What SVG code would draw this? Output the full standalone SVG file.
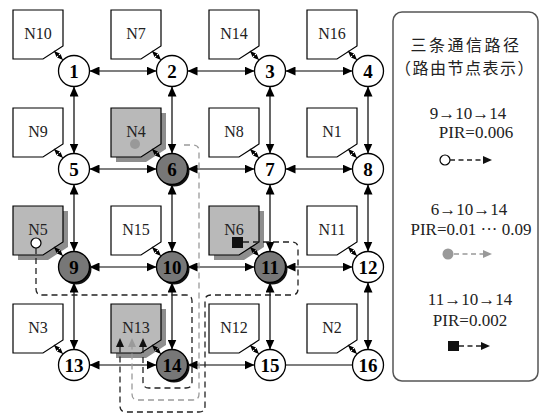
<svg xmlns="http://www.w3.org/2000/svg" width="540" height="414" viewBox="0 0 540 414">
<style>
.c{stroke:#000;stroke-width:1.2;fill:none;marker-start:url(#ah);marker-end:url(#ah)}
.p{stroke:#000;stroke-width:1.2;fill:none}
.d{stroke:#000;stroke-width:1.1;stroke-dasharray:1.6 1.4;fill:none;marker-start:url(#sa);marker-end:url(#sa)}
.box{fill:#fff;stroke:#000;stroke-width:1.2}
.gbox{fill:#b9b9b9;stroke:#000;stroke-width:1.2}
.sh{fill:#8e8e8e}
.nl{font-family:"Liberation Serif","Times New Roman","DejaVu Serif",serif;font-size:16px;text-anchor:middle;fill:#222}
.wn{fill:#fff;stroke:#000;stroke-width:1.3}
.gn{fill:#777;stroke:#000;stroke-width:1.3}
.ns{fill:#111}
.num{font-family:"Liberation Serif","Times New Roman","DejaVu Serif",serif;font-size:19px;font-weight:bold;text-anchor:middle;fill:#000}
.dk{stroke:#222;stroke-width:1.3;stroke-dasharray:6 4;fill:none}
.dg{stroke:#9a9a9a;stroke-width:1.3;stroke-dasharray:6 4;fill:none}
.lt{font-family:"Liberation Serif","Times New Roman","DejaVu Serif",serif;font-size:17px;text-anchor:middle;fill:#222}
.cj{font-family:"Noto Sans CJK SC","Liberation Serif",sans-serif;font-size:16px;text-anchor:middle;fill:#222}
</style>
<defs>
<marker id="ah" viewBox="0 0 10 9" refX="10" refY="4.5" markerWidth="10" markerHeight="9" markerUnits="userSpaceOnUse" orient="auto-start-reverse"><path d="M0,0 L10,4.5 L0,9 z" fill="#000"/></marker>
<marker id="sa" viewBox="0 0 6 5" refX="6" refY="2.5" markerWidth="6" markerHeight="5" markerUnits="userSpaceOnUse" orient="auto-start-reverse"><path d="M0,0 L6,2.5 L0,5 z" fill="#000"/></marker>
</defs>

<g id="connectors">
<line class="c" x1="89.5" y1="71" x2="156.5" y2="71"/>
<line class="c" x1="187.5" y1="71" x2="254.5" y2="71"/>
<line class="c" x1="285.5" y1="71" x2="352.5" y2="71"/>
<line class="c" x1="89.5" y1="169" x2="156.5" y2="169"/>
<line class="c" x1="187.5" y1="169" x2="254.5" y2="169"/>
<line class="c" x1="285.5" y1="169" x2="352.5" y2="169"/>
<line class="c" x1="89.5" y1="267" x2="156.5" y2="267"/>
<line class="c" x1="187.5" y1="267" x2="254.5" y2="267"/>
<line class="c" x1="285.5" y1="267" x2="352.5" y2="267"/>
<line class="c" x1="89.5" y1="365" x2="156.5" y2="365"/>
<line class="c" x1="187.5" y1="365" x2="254.5" y2="365"/>
<line class="p" x1="285.5" y1="365" x2="352.5" y2="365"/>
<line class="c" x1="74" y1="86.5" x2="74" y2="153.5"/>
<line class="c" x1="74" y1="184.5" x2="74" y2="251.5"/>
<line class="c" x1="74" y1="282.5" x2="74" y2="349.5"/>
<line class="c" x1="172" y1="86.5" x2="172" y2="153.5"/>
<line class="c" x1="172" y1="184.5" x2="172" y2="251.5"/>
<line class="c" x1="172" y1="282.5" x2="172" y2="349.5"/>
<line class="c" x1="270" y1="86.5" x2="270" y2="153.5"/>
<line class="c" x1="270" y1="184.5" x2="270" y2="251.5"/>
<line class="c" x1="270" y1="282.5" x2="270" y2="349.5"/>
<line class="c" x1="368" y1="86.5" x2="368" y2="153.5"/>
<line class="c" x1="368" y1="184.5" x2="368" y2="251.5"/>
<line class="c" x1="368" y1="282.5" x2="368" y2="349.5"/>
</g>

<g id="N10"><path class="box" d="M13,10 H63 V46 L43,59 H13 Z"/><text class="nl" x="38" y="39">N10</text></g>
<g id="N7"><path class="box" d="M111,10 H161 V46 L141,59 H111 Z"/><text class="nl" x="136" y="39">N7</text></g>
<g id="N14"><path class="box" d="M209,10 H259 V46 L239,59 H209 Z"/><text class="nl" x="234" y="39">N14</text></g>
<g id="N16"><path class="box" d="M307,10 H357 V46 L337,59 H307 Z"/><text class="nl" x="332" y="39">N16</text></g>

<g id="N9"><path class="box" d="M13,108 H63 V144 L43,157 H13 Z"/><text class="nl" x="38" y="137">N9</text></g>
<g id="N4"><path class="sh" d="M116,113 H166 V149 L146,162 H116 Z"/><path class="gbox" d="M111,108 H161 V144 L141,157 H111 Z"/><text class="nl" x="136" y="137">N4</text><circle cx="135" cy="144" r="5" fill="#999"/></g>
<g id="N8"><path class="box" d="M209,108 H259 V144 L239,157 H209 Z"/><text class="nl" x="234" y="137">N8</text></g>
<g id="N1"><path class="box" d="M307,108 H357 V144 L337,157 H307 Z"/><text class="nl" x="332" y="137">N1</text></g>

<g id="N5"><path class="sh" d="M18,211 H68 V247 L48,260 H18 Z"/><path class="gbox" d="M13,206 H63 V242 L43,255 H13 Z"/><text class="nl" x="38" y="235">N5</text></g>
<g id="N15"><path class="box" d="M111,206 H161 V242 L141,255 H111 Z"/><text class="nl" x="136" y="235">N15</text></g>
<g id="N6"><path class="sh" d="M214,211 H264 V247 L244,260 H214 Z"/><path class="gbox" d="M209,206 H259 V242 L239,255 H209 Z"/><text class="nl" x="234" y="235">N6</text><rect x="232" y="237" width="11" height="11" fill="#111"/></g>
<g id="N11"><path class="box" d="M307,206 H357 V242 L337,255 H307 Z"/><text class="nl" x="332" y="235">N11</text></g>

<g id="N3"><path class="box" d="M13,304 H63 V340 L43,353 H13 Z"/><text class="nl" x="38" y="333">N3</text></g>
<g id="N13"><path class="sh" d="M116,309 H166 V345 L146,358 H116 Z"/><path class="gbox" d="M111,304 H161 V340 L141,353 H111 Z"/><text class="nl" x="136" y="333">N13</text></g>
<g id="N12"><path class="box" d="M209,304 H259 V340 L239,353 H209 Z"/><text class="nl" x="234" y="333">N12</text></g>
<g id="N2"><path class="box" d="M307,304 H357 V340 L337,353 H307 Z"/><text class="nl" x="332" y="333">N2</text></g>

<g id="links">
<line class="d" x1="54" y1="51" x2="63" y2="60"/>
<line class="d" x1="152" y1="51" x2="161" y2="60"/>
<line class="d" x1="250" y1="51" x2="259" y2="60"/>
<line class="d" x1="348" y1="51" x2="357" y2="60"/>
<line class="d" x1="54" y1="149" x2="63" y2="158"/>
<line class="d" x1="152" y1="149" x2="161" y2="158"/>
<line class="d" x1="250" y1="149" x2="259" y2="158"/>
<line class="d" x1="348" y1="149" x2="357" y2="158"/>
<line class="d" x1="54" y1="247" x2="63" y2="256"/>
<line class="d" x1="152" y1="247" x2="161" y2="256"/>
<line class="d" x1="250" y1="247" x2="259" y2="256"/>
<line class="d" x1="348" y1="247" x2="357" y2="256"/>
<line class="d" x1="54" y1="345" x2="63" y2="354"/>
<line class="d" x1="152" y1="345" x2="161" y2="354"/>
<line class="d" x1="250" y1="345" x2="259" y2="354"/>
<line class="d" x1="348" y1="345" x2="357" y2="354"/>
</g>

<g id="paths">
<path class="dk" d="M36,248 V289 Q36,295 42,295 H186 Q192,295 192,301 V382 Q192,388 186,388 H149 Q143,388 143,382 V347"/>
<path class="dg" d="M184,145 H193 Q199,145 199,151 V394 Q199,400 193,400 H138 Q132,400 132,394 V347"/>
<path class="dk" d="M243,242 H292 Q298,242 298,248 V289 Q298,295 292,295 H211 Q205,295 205,301 V406 Q205,412 199,412 H126 Q120,412 120,406 V347"/>
<circle cx="36" cy="243" r="5" fill="#fff" stroke="#000" stroke-width="1.2"/>
<polygon points="116,347 124,347 120,338" fill="#111"/>
<polygon points="128,347 136,347 132,338" fill="#9a9a9a"/>
<polygon points="139,347 147,347 143,338" fill="#111"/>
</g>

<g id="node-1"><circle class="wn" cx="74" cy="71" r="15.5"/><text class="num" x="74" y="77.5">1</text></g>
<g id="node-2"><circle class="wn" cx="172" cy="71" r="15.5"/><text class="num" x="172" y="77.5">2</text></g>
<g id="node-3"><circle class="wn" cx="270" cy="71" r="15.5"/><text class="num" x="270" y="77.5">3</text></g>
<g id="node-4"><circle class="wn" cx="368" cy="71" r="15.5"/><text class="num" x="368" y="77.5">4</text></g>
<g id="node-5"><circle class="wn" cx="74" cy="169" r="15.5"/><text class="num" x="74" y="175.5">5</text></g>
<g id="node-6"><circle class="ns" cx="174" cy="171" r="15.5"/><circle class="gn" cx="172" cy="169" r="15.5"/><text class="num" x="172" y="175.5">6</text></g>
<g id="node-7"><circle class="wn" cx="270" cy="169" r="15.5"/><text class="num" x="270" y="175.5">7</text></g>
<g id="node-8"><circle class="wn" cx="368" cy="169" r="15.5"/><text class="num" x="368" y="175.5">8</text></g>
<g id="node-9"><circle class="ns" cx="76" cy="269" r="15.5"/><circle class="gn" cx="74" cy="267" r="15.5"/><text class="num" x="74" y="273.5">9</text></g>
<g id="node-10"><circle class="ns" cx="174" cy="269" r="15.5"/><circle class="gn" cx="172" cy="267" r="15.5"/><text class="num" x="172" y="273.5">10</text></g>
<g id="node-11"><circle class="ns" cx="272" cy="269" r="15.5"/><circle class="gn" cx="270" cy="267" r="15.5"/><text class="num" x="270" y="273.5">11</text></g>
<g id="node-12"><circle class="wn" cx="368" cy="267" r="15.5"/><text class="num" x="368" y="273.5">12</text></g>
<g id="node-13"><circle class="wn" cx="74" cy="365" r="15.5"/><text class="num" x="74" y="371.5">13</text></g>
<g id="node-14"><circle class="ns" cx="174" cy="367" r="15.5"/><circle class="gn" cx="172" cy="365" r="15.5"/><text class="num" x="172" y="371.5">14</text></g>
<g id="node-15"><circle class="wn" cx="270" cy="365" r="15.5"/><text class="num" x="270" y="371.5">15</text></g>
<g id="node-16"><circle class="wn" cx="368" cy="365" r="15.5"/><text class="num" x="368" y="371.5">16</text></g>

<g id="legend">
<rect x="393" y="12" width="145" height="369" rx="9" fill="#fff" stroke="#555" stroke-width="1.5"/>
<text class="cj" x="466" y="51" style="letter-spacing:2.5px">三条通信路径</text>
<text class="cj" x="465" y="74" style="letter-spacing:1.5px">（路由节点表示）</text>
<text class="lt" x="468" y="119">9→10→14</text>
<text class="lt" x="476" y="138">PIR=0.006</text>
<circle cx="445" cy="160" r="5" fill="#fff" stroke="#000" stroke-width="1.2"/>
<line x1="450" y1="160" x2="484" y2="160" stroke="#222" stroke-width="1.3" stroke-dasharray="5 3.5"/>
<polygon points="483,156 492,160 483,164" fill="#111"/>
<text class="lt" x="469" y="215">6→10→14</text>
<text class="lt" x="471" y="235">PIR=0.01 ··· 0.09</text>
<circle cx="448" cy="254" r="5.5" fill="#999"/>
<line x1="454" y1="254" x2="484" y2="254" stroke="#999" stroke-width="1.3" stroke-dasharray="5 3.5"/>
<polygon points="483,250 492,254 483,258" fill="#999"/>
<text class="lt" x="470" y="305">11→10→14</text>
<text class="lt" x="470" y="326">PIR=0.002</text>
<rect x="448" y="341" width="11" height="10" fill="#111"/>
<line x1="459" y1="346" x2="482" y2="346" stroke="#222" stroke-width="1.3" stroke-dasharray="5 3.5"/>
<polygon points="481,342 490,346 481,350" fill="#111"/>
</g>
</svg>
